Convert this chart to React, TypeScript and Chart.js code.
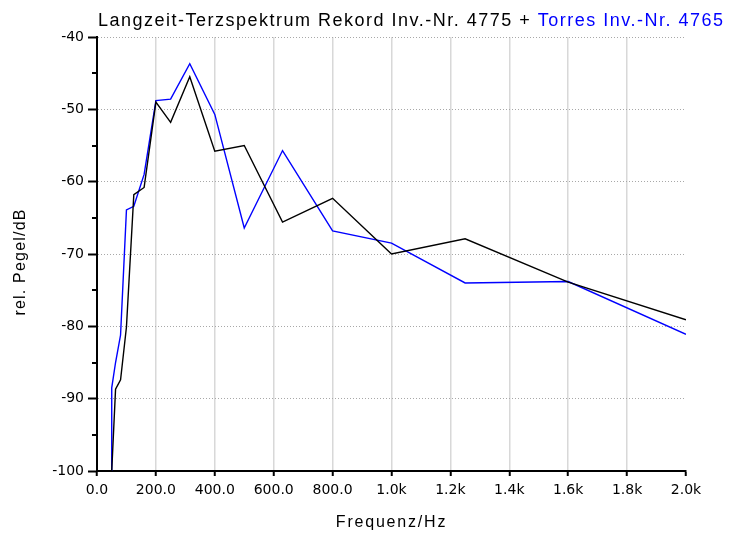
import React, { useEffect, useRef } from "react";
import { Chart, registerables } from "chart.js";

Chart.register(...registerables);

// Terzband-Mittenfrequenzen (Hz) und relative Pegel (dB)
const freqRekord = [50, 63, 80, 100, 125, 160, 200, 250, 315, 400, 500, 630, 800, 1000, 1250, 1600, 2000];
const pegelRekord = [-100, -88.7, -87.4, -80.1, -61.8, -60.8, -49.0, -51.8, -45.5, -55.8, -55.0, -65.6, -62.3, -70.0, -67.9, -73.9, -79.1];

const freqTorres = [50, 50, 63, 80, 100, 125, 160, 200, 250, 315, 400, 500, 630, 800, 1000, 1250, 1600, 2000];
const pegelTorres = [-100, -88.5, -85.0, -81.2, -63.9, -63.4, -59.0, -48.8, -48.6, -43.7, -50.7, -66.4, -55.7, -66.8, -68.5, -74.0, -73.8, -81.1];

const titleBlack = "Langzeit-Terzspektrum Rekord Inv.-Nr. 4775 + ";
const titleBlue = "Torres Inv.-Nr. 4765";
const xTitle = "Frequenz/Hz";
const yTitle = "rel. Pegel/dB";

const xMin = 0, xMax = 2000, xStep = 200;
const yMin = -100, yMax = -40, yStep = 5;

const FONT = "'DejaVu Sans', Verdana, sans-serif";
const TFONT = "'Liberation Sans', Arial, sans-serif";

const fmtX = (v: number) => (v < 1000 ? v.toFixed(1) : (v / 1000).toFixed(1) + "k");

export default function App() {
  const ref = useRef<HTMLCanvasElement | null>(null);

  useEffect(() => {
    document.body.style.margin = "0";
    const canvas = ref.current!;
    const textPlugin = {
      id: "customText",
      afterDraw(chart: any) {
        const ctx = chart.ctx as any;
        const area = chart.chartArea;
        const ys = chart.scales.y;
        ctx.save();
        // minor ticks on y axis
        ctx.strokeStyle = "#000";
        ctx.lineWidth = 2;
        for (let v = yMin + 5; v < yMax; v += 10) {
          const py = Math.round(ys.getPixelForValue(v));
          ctx.beginPath();
          ctx.moveTo(area.left - 5, py);
          ctx.lineTo(area.left, py);
          ctx.stroke();
        }
        // title
        ctx.font = `18px ${TFONT}`;
        ctx.letterSpacing = "1.5px";
        ctx.textBaseline = "alphabetic";
        ctx.textAlign = "left";
        const w1 = ctx.measureText(titleBlack).width;
        const tx = area.left + 1;
        ctx.fillStyle = "#000";
        ctx.fillText(titleBlack, tx, 26);
        ctx.fillStyle = "#0000ff";
        ctx.fillText(titleBlue, tx + w1, 26);
        // axis titles
        ctx.fillStyle = "#000";
        ctx.font = `16px ${TFONT}`;
        ctx.letterSpacing = "1.8px";
        ctx.textAlign = "center";
        ctx.textBaseline = "middle";
        ctx.fillText(xTitle, (area.left + area.right) / 2, 523);
        ctx.letterSpacing = "1.2px";
        ctx.translate(21, (area.top + area.bottom) / 2 + 8);
        ctx.rotate(-Math.PI / 2);
        ctx.fillText(yTitle, 0, 0);
        ctx.letterSpacing = "0px";
        ctx.restore();
      },
    };

    const chart = new Chart(canvas, {
      type: "line",
      data: {
        datasets: [
          {
            label: "Rekord Inv.-Nr. 4775",
            data: freqRekord.map((f, i) => ({ x: f, y: pegelRekord[i] })),
            borderColor: "#000000",
            borderWidth: 1.4,
            pointRadius: 0,
            tension: 0,
            fill: false,
          },
          {
            label: "Torres Inv.-Nr. 4765",
            data: freqTorres.map((f, i) => ({ x: f, y: pegelTorres[i] })),
            borderColor: "#0000ff",
            borderWidth: 1.4,
            pointRadius: 0,
            tension: 0,
            fill: false,
          },
        ],
      },
      options: {
        animation: false,
        responsive: false,
        devicePixelRatio: 1,
        layout: { padding: { left: 0, right: 46, top: 37, bottom: 0 } },
        plugins: {
          legend: { display: false },
          title: { display: false },
          tooltip: { enabled: false },
        },
        scales: {
          x: {
            type: "linear",
            min: xMin,
            max: xMax,
            afterFit: (s: any) => {
              s.height = 68;
            },
            ticks: {
              stepSize: xStep,
              color: "#000",
              font: { family: FONT, size: 14 },
              padding: 6,
              maxRotation: 0,
              autoSkip: false,
              callback: (v: any) => fmtX(Number(v)),
            },
            grid: {
              color: (c: any) =>
                c.tick && (c.tick.value === xMin || c.tick.value === xMax) ? "rgba(0,0,0,0)" : "#d8d8d8",
              lineWidth: 1.5,
              tickColor: "#000",
              tickWidth: 2,
              tickLength: 5,
            },
            border: { display: true, color: "#000", width: 2 },
          },
          y: {
            type: "linear",
            min: yMin,
            max: yMax,
            afterFit: (s: any) => {
              s.width = 97;
            },
            ticks: {
              stepSize: yStep,
              color: "#000",
              font: { family: FONT, size: 14 },
              padding: 4,
              autoSkip: false,
              callback: (v: any) => (Number(v) % 10 === 0 ? String(v) : ""),
            },
            grid: {
              color: (c: any) =>
                c.tick && (c.tick.value % 10 !== 0 || c.tick.value === yMin) ? "rgba(0,0,0,0)" : "#a8a8a8",
              lineWidth: 1,
              tickColor: (c: any) => (c.tick && c.tick.value % 10 !== 0 ? "rgba(0,0,0,0)" : "#000"),
              tickWidth: 2,
              tickLength: 9,
            },
            border: { display: true, color: "#000", width: 2, dash: [1, 2] },
          },
        },
      },
      plugins: [textPlugin],
    } as any);
    return () => chart.destroy();
  }, []);

  return (
    <div style={{ position: "absolute", left: 0, top: 0, width: 732, height: 539, background: "#fff" }}>
      <canvas ref={ref} width={732} height={539} />
    </div>
  );
}
